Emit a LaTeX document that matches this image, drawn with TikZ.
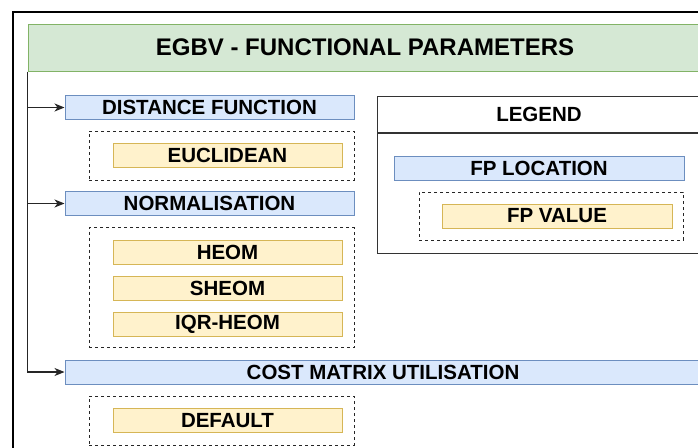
\documentclass[tikz,border=0pt]{standalone}
\usepackage{fontspec}
\setmainfont{Liberation Sans}
\usetikzlibrary{arrows.meta}
\definecolor{bluefill}{HTML}{DAE8FC}
\definecolor{blueline}{HTML}{6C8EBF}
\definecolor{yelfill}{HTML}{FFF2CC}
\definecolor{yelline}{HTML}{D6B656}
\definecolor{grnfill}{HTML}{D5E8D4}
\definecolor{grnline}{HTML}{82B366}
\definecolor{frameline}{HTML}{333333}
\tikzset{
  lbl/.style={font=\bfseries\fontsize{20.5}{23}\selectfont, inner sep=0pt, text=black},
  locbox/.style={lbl, draw=blueline, fill=bluefill, line width=1pt, minimum height=24pt},
  valbox/.style={lbl, draw=yelline, fill=yelfill, line width=1pt, minimum width=229pt, minimum height=24pt},
  group/.style={draw=black!85, dashed, dash pattern=on 3pt off 3pt, line width=0.9pt, inner sep=0pt},
  hdrbox/.style={draw=grnline, fill=grnfill, line width=1pt, inner sep=0pt,
    font=\bfseries\fontsize{24}{27}\selectfont},
  legbox/.style={draw=frameline, line width=1pt, inner sep=0pt, minimum width=324pt},
  feed/.style={draw=black!85, line width=1.1pt, -{Stealth[length=10pt,width=8pt,inset=3pt]}}
}
\begin{document}
\begin{tikzpicture}[x=1pt,y=-1pt]
\useasboundingbox (0,0) rectangle (698,447);
\clip (0,0) rectangle (698,447);
% outer frame
\draw[line width=1.2pt] (13,12) rectangle (730,480);
% title bar
\node[hdrbox, minimum width=674pt, minimum height=47pt] (hdr) at (365,47.5) {EGBV - FUNCTIONAL PARAMETERS};

% distance function
\node[locbox, minimum width=289pt] (dist) at (209.5,107.5) {DISTANCE FUNCTION};
\node[group, minimum width=265pt, minimum height=49pt] (g1) at (221.5,155.5) {};
\node[valbox] (eucl) at (227.5,155.5) {EUCLIDEAN};

% normalisation
\node[locbox, minimum width=289pt] (norm) at (209.5,203.5) {NORMALISATION};
\node[group, minimum width=265pt, minimum height=120pt] (g2) at (221.5,287.5) {};
\node[valbox] (heom) at (227.5,252) {HEOM};
\node[valbox] (sheom) at (227.5,288) {SHEOM};
\node[valbox] (iqr) at (227.5,324) {IQR-HEOM};

% cost matrix
\node[locbox, minimum width=636pt] (cost) at (383,372) {COST MATRIX UTILISATION};
\node[group, minimum width=265pt, minimum height=49pt] (g3) at (221.5,420.5) {};
\node[valbox] (dflt) at (227.5,420.5) {DEFAULT};

% connectors from the title bar
\draw[feed] (hdr.south west) |- (cost.west);
\draw[feed] (hdr.south west |- dist.west) -- (dist.west);
\draw[feed] (hdr.south west |- norm.west) -- (norm.west);

% legend
\node[legbox, lbl, minimum height=36pt] (legt) at (539,114) {LEGEND};
\node[legbox, minimum height=120pt, anchor=north] (legb) at (legt.south) {};
\node[locbox, minimum width=290pt] (fploc) at (539,168) {FP LOCATION};
\node[group, minimum width=264pt, minimum height=48pt] (g4) at (551,216) {};
\node[valbox, minimum width=230pt] (fpval) at (557,216) {FP VALUE};
\end{tikzpicture}
\end{document}
